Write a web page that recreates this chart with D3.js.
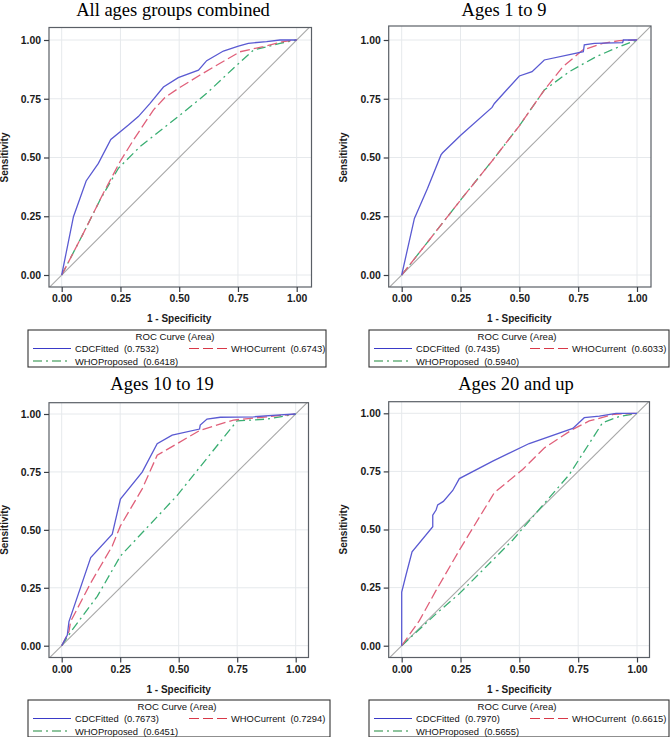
<!DOCTYPE html>
<html>
<head>
<meta charset="utf-8">
<script src="https://cdn.jsdelivr.net/npm/d3@7/dist/d3.min.js"></script>
<style>
  html, body { margin: 0; padding: 0; background: #fff; }
  svg { display: block; }
</style>
</head>
<body>
<svg id="chart" width="672" height="737"></svg>
<script>
// ---------------- DATA ----------------
const panelTitles = ["All ages groups combined", "Ages 1 to 9", "Ages 10 to 19", "Ages 20 and up"];
const seriesNames = ["CDCFitted", "WHOCurrent", "WHOProposed"];
const areaValues = [
  ["0.7532", "0.6743", "0.6418"],
  ["0.7435", "0.6033", "0.5940"],
  ["0.7673", "0.7294", "0.6451"],
  ["0.7970", "0.6615", "0.5655"]
];
const tickValues = [0, 0.25, 0.5, 0.75, 1];
const tickLabels = ["0.00", "0.25", "0.50", "0.75", "1.00"];
const xAxisTitle = "1 - Specificity";
const yAxisTitle = "Sensitivity";
const legendTitle = "ROC Curve (Area)";

// All ages
const allCdc = [[0,0],[0.05,0.248],[0.104,0.40],[0.156,0.475],[0.209,0.577],[0.284,0.638],[0.326,0.674],[0.376,0.73],[0.433,0.80],[0.496,0.84],[0.582,0.872],[0.617,0.912],[0.688,0.953],[0.752,0.974],[0.794,0.986],[0.872,0.993],[0.929,1.0],[1,1]];
const allWhoCur = [[0,0],[0.092,0.177],[0.177,0.348],[0.248,0.482],[0.305,0.574],[0.39,0.702],[0.44,0.756],[0.504,0.799],[0.589,0.851],[0.674,0.901],[0.759,0.950],[0.858,0.972],[0.943,0.993],[1,1]];
const allWhoProp = [[0,0],[0.092,0.177],[0.163,0.319],[0.241,0.454],[0.333,0.546],[0.504,0.681],[0.617,0.773],[0.730,0.879],[0.816,0.957],[0.929,0.986],[1,1]];
// Ages 1 to 9
const kidCdc = [[0,0],[0.054,0.241],[0.110,0.369],[0.167,0.511],[0.174,0.52],[0.252,0.596],[0.384,0.713],[0.394,0.730],[0.5,0.847],[0.554,0.865],[0.606,0.915],[0.772,0.950],[0.776,0.979],[0.819,0.986],[0.939,0.989],[0.942,1.0],[1,1]];
const kidWhoCur = [[0,0],[0.259,0.33],[0.387,0.489],[0.5,0.635],[0.606,0.787],[0.684,0.885],[0.769,0.957],[0.854,0.986],[0.925,0.997],[1,1]];
const kidWhoProp = [[0,0],[0.259,0.33],[0.387,0.489],[0.5,0.635],[0.606,0.787],[0.712,0.865],[0.826,0.929],[0.925,0.972],[1,1]];
// Ages 10 to 19
const teenCdc = [[0,0],[0.024,0.046],[0.031,0.104],[0.124,0.380],[0.216,0.481],[0.251,0.633],[0.344,0.749],[0.408,0.872],[0.472,0.909],[0.589,0.935],[0.592,0.952],[0.621,0.978],[0.678,0.986],[0.820,0.988],[0.933,0.996],[1,1]];
const teenWhoCur = [[0,0],[0.031,0.061],[0.038,0.104],[0.124,0.271],[0.216,0.43],[0.251,0.517],[0.344,0.677],[0.408,0.822],[0.592,0.930],[0.734,0.974],[1,1]];
const teenWhoProp = [[0,0],[0.045,0.068],[0.152,0.213],[0.251,0.387],[0.493,0.648],[0.749,0.970],[0.876,0.978],[0.933,0.988],[1,1]];
// Ages 20 and up
const adultCdc = [[0,0],[0,0.231],[0.018,0.303],[0.044,0.404],[0.132,0.512],[0.132,0.562],[0.146,0.584],[0.153,0.606],[0.177,0.621],[0.217,0.668],[0.245,0.719],[0.387,0.794],[0.542,0.870],[0.727,0.935],[0.776,0.981],[0.840,0.988],[0.911,1.0],[1,1]];
const adultWhoCur = [[0,0],[0.075,0.108],[0.146,0.238],[0.245,0.411],[0.394,0.659],[0.514,0.758],[0.606,0.851],[0.727,0.931],[0.797,0.967],[0.904,0.996],[1,1]];
const adultWhoProp = [[0,0],[0.146,0.137],[0.245,0.224],[0.472,0.455],[0.712,0.736],[0.854,0.96],[0.925,0.986],[1,1]];

const panelSeries = [
  [allCdc, allWhoCur, allWhoProp],
  [kidCdc, kidWhoCur, kidWhoProp],
  [teenCdc, teenWhoCur, teenWhoProp],
  [adultCdc, adultWhoCur, adultWhoProp]
];

// ---------------- STYLE / LAYOUT ----------------
const seriesStyle = [
  { color: "#5a5ad2", legendColor: "#3a3ac8", dash: null },
  { color: "#e0607a", legendColor: "#d83848", dash: "10,4" },
  { color: "#3aae72", legendColor: "#1f8a3c", dash: "9,4,2,4" }
];

const layout = [
  { fx0: 49, fx1: 311.5, fy0: 27.5, fy1: 287, dx0: 61.7, dx1: 296.7, dy0: 275, dy1: 40, titleX: 173, titleY: 16, ylabX: 8, legX: 28, legY: 330, legW: 298 },
  { fx0: 388.7, fx1: 651, fy0: 26, fy1: 287, dx0: 401.7, dx1: 637, dy0: 275, dy1: 40, titleX: 504, titleY: 16, ylabX: 347, legX: 369, legY: 330, legW: 300 },
  { fx0: 49, fx1: 308.5, fy0: 402.7, fy1: 657.5, dx0: 61.7, dx1: 295.7, dy0: 645.7, dy1: 414, titleX: 162, titleY: 390, ylabX: 8, legX: 28, legY: 700, legW: 302 },
  { fx0: 388.7, fx1: 649.5, fy0: 401.7, fy1: 657.5, dx0: 401.7, dx1: 637, dy0: 645.7, dy1: 413.3, titleX: 516, titleY: 390, ylabX: 347, legX: 369, legY: 700, legW: 300 }
];

const svg = d3.select("#chart");
const sansFont = "'Liberation Sans', Arial, sans-serif";
const serifFont = "'Liberation Serif', 'Times New Roman', serif";

layout.forEach((L, pi) => {
  const x = d3.scaleLinear().domain([0, 1]).range([L.dx0, L.dx1]);
  const y = d3.scaleLinear().domain([0, 1]).range([L.dy0, L.dy1]);
  const g = svg.append("g");

  const clipId = "clip" + pi;
  svg.append("clipPath").attr("id", clipId)
    .append("rect").attr("x", L.fx0).attr("y", L.fy0)
    .attr("width", L.fx1 - L.fx0).attr("height", L.fy1 - L.fy0);

  // title
  g.append("text").attr("x", L.titleX).attr("y", L.titleY)
    .attr("text-anchor", "middle")
    .style("font-family", serifFont).style("font-size", "18.5px")
    .attr("fill", "#000").text(panelTitles[pi]);

  // gridlines
  const grid = g.append("g").attr("clip-path", `url(#${clipId})`);
  tickValues.forEach(t => {
    grid.append("line").attr("x1", x(t)).attr("x2", x(t))
      .attr("y1", L.fy0).attr("y2", L.fy1)
      .attr("stroke", "#e6e9ec").attr("stroke-width", 1);
    grid.append("line").attr("y1", y(t)).attr("y2", y(t))
      .attr("x1", L.fx0).attr("x2", L.fx1)
      .attr("stroke", "#e6e9ec").attr("stroke-width", 1);
  });

  // diagonal reference
  grid.append("line")
    .attr("x1", x(-0.1)).attr("y1", y(-0.1))
    .attr("x2", x(1.1)).attr("y2", y(1.1))
    .attr("stroke", "#a8a8a8").attr("stroke-width", 1.1);

  // curves
  const lineGen = d3.line().x(d => x(d[0])).y(d => y(d[1]));
  const order = [2, 1, 0];
  order.forEach(si => {
    const st = seriesStyle[si];
    grid.append("path").datum(panelSeries[pi][si])
      .attr("d", lineGen).attr("fill", "none")
      .attr("stroke", st.color).attr("stroke-width", 1.3)
      .attr("stroke-dasharray", st.dash);
  });

  // frame
  g.append("rect").attr("x", L.fx0).attr("y", L.fy0)
    .attr("width", L.fx1 - L.fx0).attr("height", L.fy1 - L.fy0)
    .attr("fill", "none").attr("stroke", "#5a5f66").attr("stroke-width", 1.2);

  // axes
  const xAxis = d3.axisBottom(x).tickValues(tickValues)
    .tickFormat((d, i) => tickLabels[i]).tickSize(5).tickPadding(3);
  const yAxis = d3.axisLeft(y).tickValues(tickValues)
    .tickFormat((d, i) => tickLabels[i]).tickSize(5).tickPadding(3);

  const gx = g.append("g").attr("transform", `translate(0,${L.fy1})`).call(xAxis);
  const gy = g.append("g").attr("transform", `translate(${L.fx0},0)`).call(yAxis);
  [gx, gy].forEach(a => {
    a.select(".domain").remove();
    a.selectAll(".tick line").attr("stroke", "#3a3f46").attr("stroke-width", 1.2);
    a.selectAll(".tick text").attr("fill", "#1a1a1a")
      .style("font-family", sansFont).style("font-size", "10.4px").style("font-weight", "bold");
  });

  // axis titles
  g.append("text").attr("x", (L.dx0 + L.dx1) / 2).attr("y", L.fy1 + 35)
    .attr("text-anchor", "middle")
    .style("font-family", sansFont).style("font-size", "10px").style("font-weight", "bold")
    .attr("fill", "#1a1a1a").text(xAxisTitle);
  g.append("text")
    .attr("transform", `translate(${L.ylabX},${(L.dy0 + L.dy1) / 2}) rotate(-90)`)
    .attr("text-anchor", "middle")
    .style("font-family", sansFont).style("font-size", "10px").style("font-weight", "bold")
    .attr("fill", "#1a1a1a").text(yAxisTitle);

  // legend
  const lg = g.append("g").attr("transform", `translate(${L.legX},${L.legY})`);
  lg.append("rect").attr("x", 0).attr("y", 0).attr("width", L.legW).attr("height", 37)
    .attr("fill", "#fff").attr("stroke", "#333").attr("stroke-width", 1.1);
  lg.append("text").attr("x", L.legW / 2 - 2).attr("y", 10)
    .attr("text-anchor", "middle")
    .style("font-family", sansFont).style("font-size", "9.6px")
    .attr("fill", "#111").text(legendTitle);
  const slots = [
    { lx: 5, ly: 18.5 },
    { lx: 161, ly: 18.5 },
    { lx: 5, ly: 31 }
  ];
  seriesNames.forEach((name, si) => {
    const s = slots[si];
    const st = seriesStyle[si];
    lg.append("line").attr("x1", s.lx).attr("x2", s.lx + 38)
      .attr("y1", s.ly).attr("y2", s.ly)
      .attr("stroke", st.legendColor).attr("stroke-width", 1.2)
      .attr("stroke-dasharray", st.dash);
    lg.append("text").attr("x", s.lx + 42).attr("y", s.ly + 3.5)
      .style("font-family", sansFont).style("font-size", "9.4px")
      .style("white-space", "pre")
      .attr("fill", "#111").text(`${name}  (${areaValues[pi][si]})`);
  });
});
</script>
</body>
</html>
